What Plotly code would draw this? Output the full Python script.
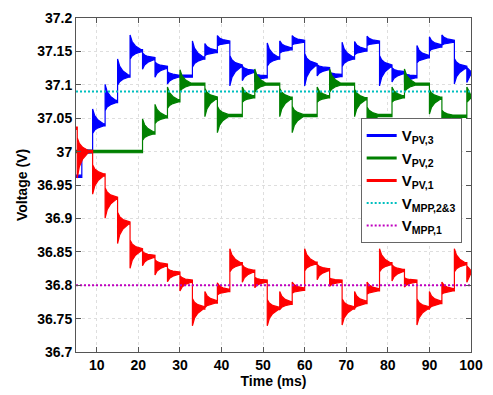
import plotly.graph_objects as go

# ---------------- data ----------------
T_START, T_END = 5, 100

# V_PV,3 (blue): step times, overshoot values, settled values
blue_v0 = 36.963
blue_t = [6.4, 9.0, 12.0, 15.0, 18.0, 21.0, 24.0, 27.0,
          33.0, 36.0, 39.0, 42.0, 45.0, 48.0,
          51.0, 54.0, 57.0, 60.0, 63.0, 66.0,
          69.0, 72.0, 75.0, 78.0, 81.0, 84.0,
          87.0, 90.0, 93.0, 96.0, 99.0]
blue_peak = [37.004, 37.062, 37.099, 37.137, 37.173, 37.125, 37.113, 37.103,
             37.164, 37.160, 37.172, 37.100, 37.108, 37.106,
             37.161, 37.164, 37.172, 37.100, 37.115, 37.108,
             37.162, 37.163, 37.171, 37.100, 37.106, 37.105,
             37.157, 37.170, 37.173, 37.103, 37.105]
blue_settle = [37.000, 37.040, 37.075, 37.113, 37.151, 37.139, 37.126, 37.113,
               37.140, 37.150, 37.164, 37.128, 37.120, 37.112,
               37.140, 37.154, 37.165, 37.130, 37.124, 37.114,
               37.140, 37.152, 37.164, 37.128, 37.118, 37.112,
               37.142, 37.158, 37.165, 37.126, 37.118]

# V_PV,2 (green)
green_v0 = 37.000
green_t = [21.0, 24.0, 27.0, 30.0, 36.0, 39.0, 45.0, 48.0,
           54.0, 57.0, 63.0, 66.0, 72.0, 75.0, 81.0, 84.0,
           90.0, 93.0, 99.0]
green_peak = [37.047, 37.069, 37.095, 37.121, 37.054, 37.030, 37.095, 37.122,
              37.054, 37.030, 37.095, 37.122, 37.054, 37.032, 37.095, 37.122,
              37.058, 37.038, 37.095]
green_settle = [37.028, 37.052, 37.076, 37.101, 37.080, 37.054, 37.082, 37.101,
                37.080, 37.054, 37.082, 37.101, 37.079, 37.054, 37.082, 37.101,
                37.080, 37.053, 37.082]

# V_PV,1 (red)
red_v0 = 37.035
red_t = [5.3, 9.0, 12.0, 15.0, 18.0, 21.0, 24.0, 27.0, 30.0,
         33.0, 36.0, 39.0, 42.0, 45.0, 48.0,
         51.0, 54.0, 57.0, 60.0, 63.0, 66.0,
         69.0, 72.0, 75.0, 78.0, 81.0, 84.0,
         87.0, 90.0, 93.0, 96.0, 99.0]
red_peak = [36.962, 36.938, 36.902, 36.864, 36.827, 36.831, 36.817, 36.807, 36.793,
            36.741, 36.789, 36.802, 36.853, 36.806, 36.798,
            36.741, 36.789, 36.803, 36.853, 36.810, 36.800,
            36.742, 36.789, 36.803, 36.853, 36.808, 36.799,
            36.742, 36.789, 36.803, 36.853, 36.806]
red_settle = [37.000, 36.965, 36.930, 36.893, 36.853, 36.843, 36.830, 36.818, 36.806,
              36.766, 36.775, 36.792, 36.832, 36.821, 36.806,
              36.765, 36.773, 36.794, 36.833, 36.823, 36.806,
              36.766, 36.774, 36.793, 36.832, 36.822, 36.806,
              36.766, 36.774, 36.793, 36.832, 36.820]

v_mpp_23 = 37.09
v_mpp_1 = 36.80

x_ticks = [10, 20, 30, 40, 50, 60, 70, 80, 90, 100]
y_ticks = [36.7, 36.75, 36.8, 36.85, 36.9, 36.95, 37.0, 37.05, 37.1, 37.15, 37.2]
y_tick_text = ["36.7", "36.75", "36.8", "36.85", "36.9", "36.95", "37",
               "37.05", "37.1", "37.15", "37.2"]

# ---------------- drawing style (ringing band after each step) ----------------
W = 0.0017                       # half thickness of the noisy trace
RING = 0.5                       # opposite swing relative to overshoot
TAPER_DT = [0.0, 0.5, 1.3, 2.6]
TAPER_F = [1.0, 0.55, 0.25, 0.0]


def band(v0, ts, peaks, settles):
    up = [(T_START, v0 + W)]
    lo = [(T_START, v0 - W)]
    prev = v0
    for i, (t, pk, st) in enumerate(zip(ts, peaks, settles)):
        tn = ts[i + 1] if i + 1 < len(ts) else T_END
        a = pk - st
        up.append((t, prev + W))
        lo.append((t, prev - W))
        for dt, f in zip(TAPER_DT, TAPER_F):
            tt = t + dt
            if tt >= tn:
                break
            e1, e2 = a * f, -RING * a * f
            up.append((tt, st + max(e1, e2) + W))
            lo.append((tt, st + min(e1, e2) - W))
        prev = st
    up.append((T_END, prev + W))
    lo.append((T_END, prev - W))
    pts = up + lo[::-1]
    return [p[0] for p in pts], [p[1] for p in pts]


fig = go.Figure()
series = [
    ("V<sub>PV,3</sub>", "#0000FF", blue_v0, blue_t, blue_peak, blue_settle),
    ("V<sub>PV,2</sub>", "#008000", green_v0, green_t, green_peak, green_settle),
    ("V<sub>PV,1</sub>", "#FF0000", red_v0, red_t, red_peak, red_settle),
]
for k, (name, col, v0, ts, pk, st) in enumerate(series):
    xs, ys = band(v0, ts, pk, st)
    fig.add_trace(go.Scatter(x=xs, y=ys, mode="lines", fill="toself",
                             fillcolor=col, line=dict(color=col, width=1.2),
                             showlegend=False, hoverinfo="skip"))

fig.add_trace(go.Scatter(x=[T_START, T_END], y=[v_mpp_23, v_mpp_23], mode="lines",
                         line=dict(color="#00BFBF", width=2, dash="2px,2px"),
                         name="V<sub>MPP,2&3</sub>", legendrank=4))
fig.add_trace(go.Scatter(x=[T_START, T_END], y=[v_mpp_1, v_mpp_1], mode="lines",
                         line=dict(color="#BF00BF", width=2, dash="2px,2px"),
                         name="V<sub>MPP,1</sub>", legendrank=5))

# legend entries for the three signals
for k, (name, col, *_rest) in enumerate(series):
    fig.add_trace(go.Scatter(x=[None], y=[None], mode="lines",
                             line=dict(color=col, width=3), name=name,
                             legendrank=k + 1))

font = dict(family="Liberation Sans, Arial", size=14, color="#000000", weight="bold")
axis_common = dict(showline=True, linecolor="#555555", linewidth=1, mirror="ticks",
                   ticks="inside", ticklen=5, tickcolor="#555555",
                   showgrid=True, gridcolor="#dedede", griddash="dot", gridwidth=1,
                   zeroline=False, tickfont=font)

fig.update_layout(
    width=493, height=395,
    margin=dict(l=76, r=16, t=10, b=42),
    paper_bgcolor="white", plot_bgcolor="white",
    font=font,
    showlegend=True,
    legend=dict(x=0.7207, y=0.70, xanchor="left", yanchor="top",
                bgcolor="white", bordercolor="#666666", borderwidth=1,
                font=dict(family="Liberation Sans, Arial", size=15, color="#000000",
                          weight="bold"),
                itemwidth=30),
    xaxis=dict(range=[T_START, T_END], tickvals=x_ticks,
               title=dict(text="Time (ms)", font=font, standoff=2), **axis_common),
    yaxis=dict(range=[36.7, 37.2], tickvals=y_ticks, ticktext=y_tick_text,
               title=dict(text="Voltage (V)", font=font, standoff=6), **axis_common),
)

fig.write_html("out.html")
